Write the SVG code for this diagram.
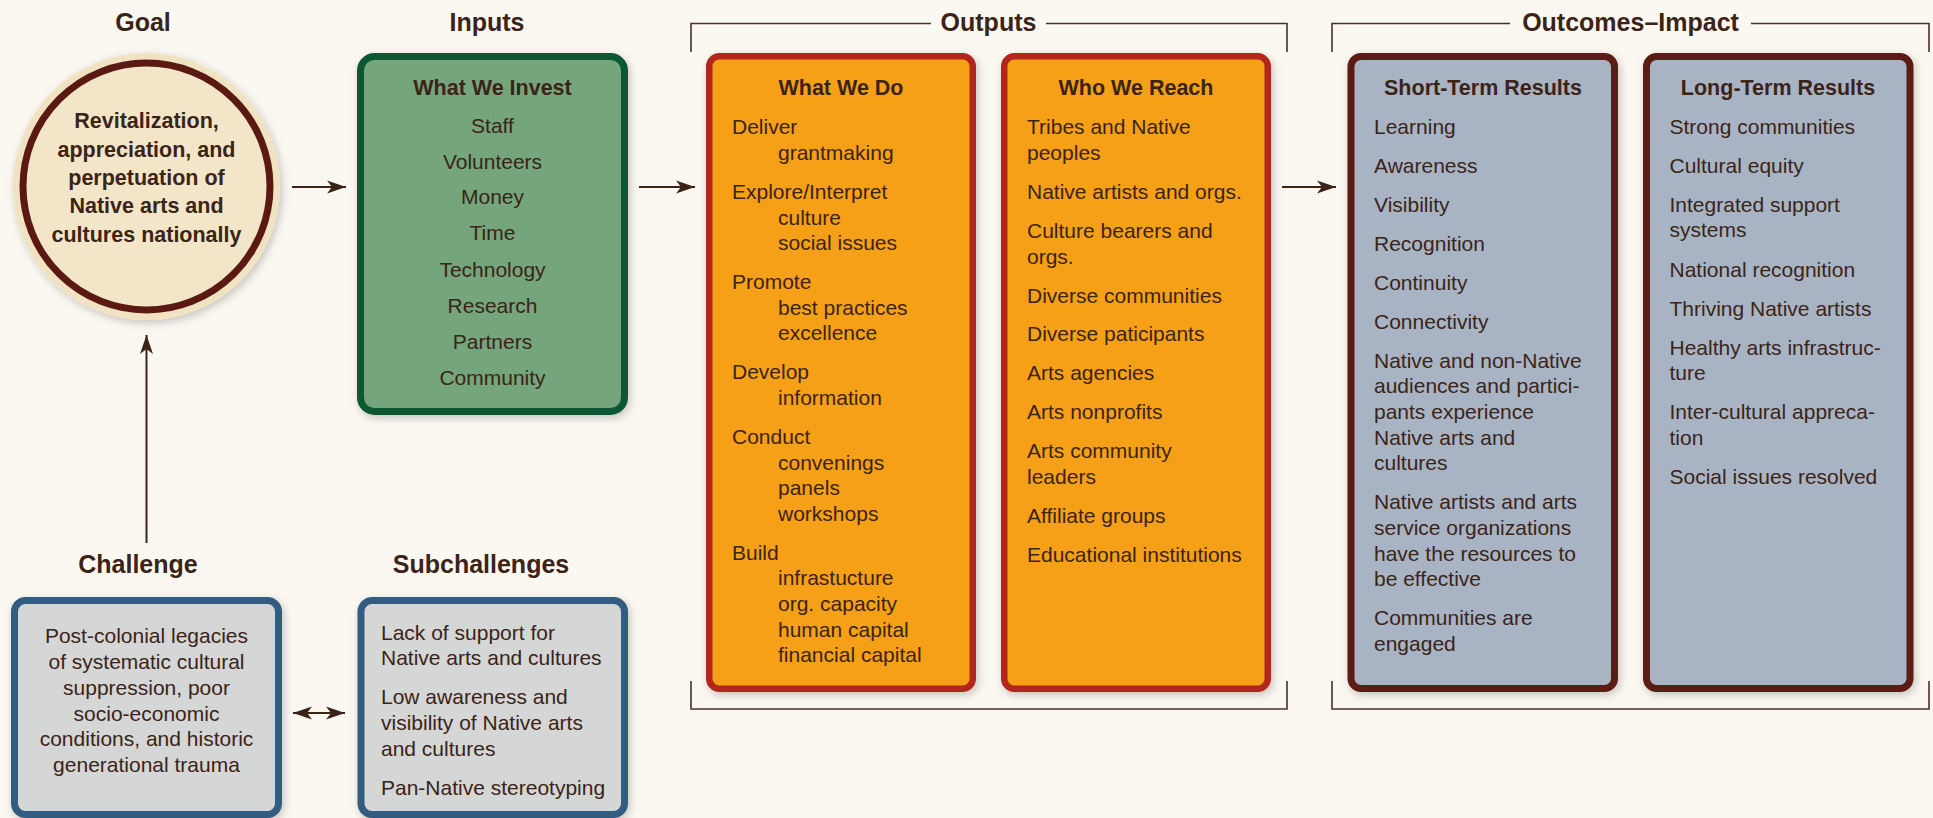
<svg xmlns="http://www.w3.org/2000/svg" width="1933" height="818" viewBox="0 0 1933 818">
<defs>
<style>
text{font-family:"Liberation Sans",Arial,sans-serif;fill:#3b2417}
.title{font-size:25px;font-weight:bold;text-anchor:middle}
.head{font-size:21.5px;font-weight:bold;text-anchor:middle}
.goal{font-size:21.5px;font-weight:bold;text-anchor:middle}
.b{font-size:21px}
.c{font-size:21px;text-anchor:middle}
.conn{stroke:#3b2417;stroke-width:2;fill:none}
.brk{stroke:#4a3128;stroke-width:1.6;fill:none}
.inp{fill:#74a57a;stroke:#0c5932;stroke-width:7}
.out{fill:#f5a012;stroke:#b2281f;stroke-width:6.5}
.res{fill:#a8b4c4;stroke:#5c1a13;stroke-width:7}
.chl{fill:#d5d6d6;stroke:#305c80;stroke-width:7}
</style>
<filter id="sh" x="-15%" y="-15%" width="135%" height="135%">
<feDropShadow dx="2" dy="3" stdDeviation="4" flood-color="#000" flood-opacity="0.22"/>
</filter>
<marker id="ah" viewBox="0 0 20 14" refX="19" refY="7" markerWidth="20" markerHeight="14" markerUnits="userSpaceOnUse" orient="auto-start-reverse">
<path d="M0,0.5 L19,7 L0,13.5 L5,7 z" fill="#3b2417"/>
</marker>
</defs>
<rect x="0" y="0" width="1933" height="818" fill="#fbf8f1"/>

<g id="brackets">
<path class="brk" d="M691,52 V23.5 H931 M1046,23.5 H1287 V52"/>
<path class="brk" d="M691,681 V709 H1287 V681"/>
<path class="brk" d="M1332,52 V23.5 H1510 M1751,23.5 H1929 V52"/>
<path class="brk" d="M1332,681 V709 H1929 V681"/>
</g>

<g id="titles">
<text class="title" x="143" y="31">Goal</text>
<text class="title" x="487" y="31">Inputs</text>
<text class="title" x="988.5" y="31">Outputs</text>
<text class="title" x="1630.5" y="31">Outcomes–Impact</text>
<text class="title" x="138" y="573">Challenge</text>
<text class="title" x="481" y="573">Subchallenges</text>
</g>

<g id="connectors">
<line class="conn" x1="292" y1="187" x2="346" y2="187" marker-end="url(#ah)"/>
<line class="conn" x1="639" y1="187" x2="695" y2="187" marker-end="url(#ah)"/>
<line class="conn" x1="1282" y1="187" x2="1336" y2="187" marker-end="url(#ah)"/>
<line class="conn" x1="146.5" y1="543" x2="146.5" y2="335" marker-end="url(#ah)"/>
<line class="conn" x1="293" y1="713" x2="345" y2="713" marker-start="url(#ah)" marker-end="url(#ah)"/>
</g>

<g id="goal">
<circle cx="146.5" cy="186.5" r="133.5" fill="#f1e2c1" filter="url(#sh)"/>
<circle cx="146.5" cy="186.5" r="123.5" fill="#f3e5c7" stroke="#5a1a13" stroke-width="7"/>
<text class="goal" x="146.5" y="128.3">Revitalization,</text>
<text class="goal" x="146.5" y="156.7">appreciation, and</text>
<text class="goal" x="146.5" y="185">perpetuation of</text>
<text class="goal" x="146.5" y="213.3">Native arts and</text>
<text class="goal" x="146.5" y="241.7">cultures nationally</text>
</g>

<g id="inputs">
<rect class="inp" x="360.5" y="56.5" width="264" height="355" rx="14" filter="url(#sh)"/>
<text class="head" x="492.5" y="95">What We Invest</text>
<text class="c" x="492.5" y="132.7">Staff</text>
<text class="c" x="492.5" y="168.5">Volunteers</text>
<text class="c" x="492.5" y="204.3">Money</text>
<text class="c" x="492.5" y="240.2">Time</text>
<text class="c" x="492.5" y="276.8">Technology</text>
<text class="c" x="492.5" y="313.3">Research</text>
<text class="c" x="492.5" y="349.3">Partners</text>
<text class="c" x="492.5" y="385.2">Community</text>
</g>

<g id="what-we-do">
<rect class="out" x="709.25" y="56.25" width="263.5" height="632.5" rx="10" filter="url(#sh)"/>
<text class="head" x="841" y="95">What We Do</text>
<text class="b" x="732" y="134.3">Deliver</text>
<text class="b" x="778" y="160">grantmaking</text>
<text class="b" x="732" y="199.3">Explore/Interpret</text>
<text class="b" x="778" y="224.7">culture</text>
<text class="b" x="778" y="250">social issues</text>
<text class="b" x="732" y="288.7">Promote</text>
<text class="b" x="778" y="314.5">best practices</text>
<text class="b" x="778" y="340">excellence</text>
<text class="b" x="732" y="379">Develop</text>
<text class="b" x="778" y="404.5">information</text>
<text class="b" x="732" y="444">Conduct</text>
<text class="b" x="778" y="469.5">convenings</text>
<text class="b" x="778" y="495">panels</text>
<text class="b" x="778" y="520.5">workshops</text>
<text class="b" x="732" y="559.5">Build</text>
<text class="b" x="778" y="585">infrastucture</text>
<text class="b" x="778" y="610.7">org. capacity</text>
<text class="b" x="778" y="636.5">human capital</text>
<text class="b" x="778" y="662.2">financial capital</text>
</g>

<g id="who-we-reach">
<rect class="out" x="1004.25" y="56.25" width="263.5" height="632.5" rx="10" filter="url(#sh)"/>
<text class="head" x="1136" y="95">Who We Reach</text>
<text class="b" x="1027" y="134.3">Tribes and Native</text>
<text class="b" x="1027" y="160">peoples</text>
<text class="b" x="1027" y="199.3">Native artists and orgs.</text>
<text class="b" x="1027" y="238.3">Culture bearers and</text>
<text class="b" x="1027" y="263.8">orgs.</text>
<text class="b" x="1027" y="302.5">Diverse communities</text>
<text class="b" x="1027" y="341.2">Diverse paticipants</text>
<text class="b" x="1027" y="380">Arts agencies</text>
<text class="b" x="1027" y="419">Arts nonprofits</text>
<text class="b" x="1027" y="458.3">Arts community</text>
<text class="b" x="1027" y="484">leaders</text>
<text class="b" x="1027" y="523.3">Affiliate groups</text>
<text class="b" x="1027" y="561.7">Educational institutions</text>
</g>

<g id="short-term-results">
<rect class="res" x="1351" y="56.5" width="263.5" height="632" rx="10" filter="url(#sh)"/>
<text class="head" x="1483" y="95">Short-Term Results</text>
<text class="b" x="1374" y="134.3">Learning</text>
<text class="b" x="1374" y="172.7">Awareness</text>
<text class="b" x="1374" y="211.7">Visibility</text>
<text class="b" x="1374" y="250.7">Recognition</text>
<text class="b" x="1374" y="290">Continuity</text>
<text class="b" x="1374" y="329">Connectivity</text>
<text class="b" x="1374" y="367.7">Native and non-Native</text>
<text class="b" x="1374" y="393.3">audiences and partici-</text>
<text class="b" x="1374" y="419">pants experience</text>
<text class="b" x="1374" y="444.8">Native arts and</text>
<text class="b" x="1374" y="470.3">cultures</text>
<text class="b" x="1374" y="509.3">Native artists and arts</text>
<text class="b" x="1374" y="535">service organizations</text>
<text class="b" x="1374" y="560.7">have the resources to</text>
<text class="b" x="1374" y="586.3">be effective</text>
<text class="b" x="1374" y="625">Communities are</text>
<text class="b" x="1374" y="650.5">engaged</text>
</g>

<g id="long-term-results">
<rect class="res" x="1646.5" y="56.5" width="263.5" height="632" rx="10" filter="url(#sh)"/>
<text class="head" x="1778" y="95">Long-Term Results</text>
<text class="b" x="1669.5" y="134.3">Strong communities</text>
<text class="b" x="1669.5" y="172.7">Cultural equity</text>
<text class="b" x="1669.5" y="211.7">Integrated support</text>
<text class="b" x="1669.5" y="237.3">systems</text>
<text class="b" x="1669.5" y="276.7">National recognition</text>
<text class="b" x="1669.5" y="315.7">Thriving Native artists</text>
<text class="b" x="1669.5" y="355">Healthy arts infrastruc-</text>
<text class="b" x="1669.5" y="380.3">ture</text>
<text class="b" x="1669.5" y="419">Inter-cultural appreca-</text>
<text class="b" x="1669.5" y="444.8">tion</text>
<text class="b" x="1669.5" y="484">Social issues resolved</text>
</g>

<g id="challenge">
<rect class="chl" x="14.5" y="600.5" width="264" height="214" rx="11" filter="url(#sh)"/>
<text class="c" x="146.5" y="642.7">Post-colonial legacies</text>
<text class="c" x="146.5" y="668.7">of systematic cultural</text>
<text class="c" x="146.5" y="694.7">suppression, poor</text>
<text class="c" x="146.5" y="720.7">socio-economic</text>
<text class="c" x="146.5" y="746.3">conditions, and historic</text>
<text class="c" x="146.5" y="771.7">generational trauma</text>
</g>

<g id="subchallenges">
<rect class="chl" x="361" y="600.5" width="263.5" height="214" rx="11" filter="url(#sh)"/>
<text class="b" x="381" y="640">Lack of support for</text>
<text class="b" x="381" y="665.3">Native arts and cultures</text>
<text class="b" x="381" y="704.3">Low awareness and</text>
<text class="b" x="381" y="730">visibility of Native arts</text>
<text class="b" x="381" y="755.7">and cultures</text>
<text class="b" x="381" y="795">Pan-Native stereotyping</text>
</g>
</svg>
